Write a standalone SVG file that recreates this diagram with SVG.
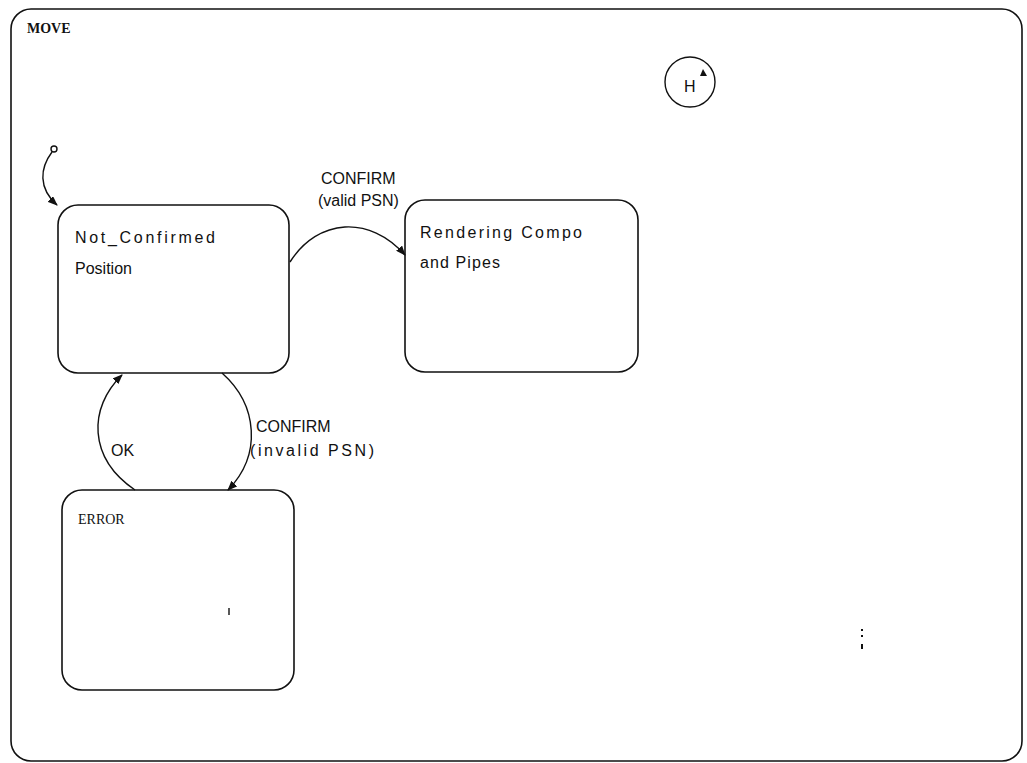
<svg xmlns="http://www.w3.org/2000/svg" width="1027" height="763" viewBox="0 0 1027 763">
<style>
.box{fill:none;stroke:#111;stroke-width:1.6}
.ln{fill:none;stroke:#111;stroke-width:1.4}
.t{font-family:"Liberation Sans",Arial,sans-serif;font-size:16px;fill:#111}
.s{font-family:"Liberation Serif","Times New Roman",serif;font-size:14px;fill:#111}
</style>
<defs>
<marker id="ah" markerWidth="10" markerHeight="8" refX="9" refY="4" orient="auto" markerUnits="userSpaceOnUse">
<path d="M0,0 L10,4 L0,8 z" fill="#111"/>
</marker>
</defs>
<g id="MOVE">
<rect class="box" x="11" y="9" width="1011" height="752" rx="20"/>
<text class="s" x="27" y="33" font-weight="bold" font-size="14">MOVE</text>
</g>
<g id="history">
<circle class="ln" cx="690" cy="82" r="25"/>
<text class="t" x="684" y="92" font-size="13">H</text>
<path d="M700,76 L703,69 L707,76 z" fill="#111"/>
</g>
<g id="initial">
<circle class="ln" cx="54" cy="149" r="3"/>
</g>
<g id="not_confirmed">
<rect class="box" x="58" y="205" width="231" height="168" rx="20"/>
<text class="t" x="75" y="243" textLength="140" lengthAdjust="spacing">Not_Confirmed</text>
<text class="t" x="75" y="274">Position</text>
</g>
<g id="rendering">
<rect class="box" x="405" y="200" width="233" height="172" rx="20"/>
<text class="t" x="420" y="238" textLength="162" lengthAdjust="spacing">Rendering Compo</text>
<text class="t" x="420" y="268" textLength="80" lengthAdjust="spacing">and Pipes</text>
</g>
<g id="error">
<rect class="box" x="62" y="490" width="232" height="200" rx="20"/>
<text class="s" x="78" y="524" font-size="14">ERROR</text>
<line class="ln" x1="229" y1="608" x2="229" y2="615"/>
</g>
<g id="connectors">
<path class="ln" d="M52,152 C40,168 38,188 57,205" marker-end="url(#ah)"/>
<path class="ln" d="M290,262 C318,218 370,215 405,255" marker-end="url(#ah)"/>
<path class="ln" d="M135,490 C88,458 88,408 122,375" marker-end="url(#ah)"/>
<path class="ln" d="M222,373 C258,405 262,455 228,490" marker-end="url(#ah)"/>
</g>
<g id="labels">
<text class="t" x="321" y="184" font-size="14">CONFIRM</text>
<text class="t" x="318" y="206" font-size="14">(valid PSN)</text>
<text class="t" x="256" y="432" font-size="14">CONFIRM</text>
<text class="t" x="250" y="456" font-size="14" textLength="124" lengthAdjust="spacing">(invalid PSN)</text>
<text class="t" x="111" y="456" font-size="12">OK</text>
</g>
<g id="specks" fill="#111">
<rect x="861" y="629" width="2" height="2"/>
<rect x="861" y="635" width="2" height="2"/>
<rect x="861" y="644" width="2" height="5"/>
</g>
</svg>
